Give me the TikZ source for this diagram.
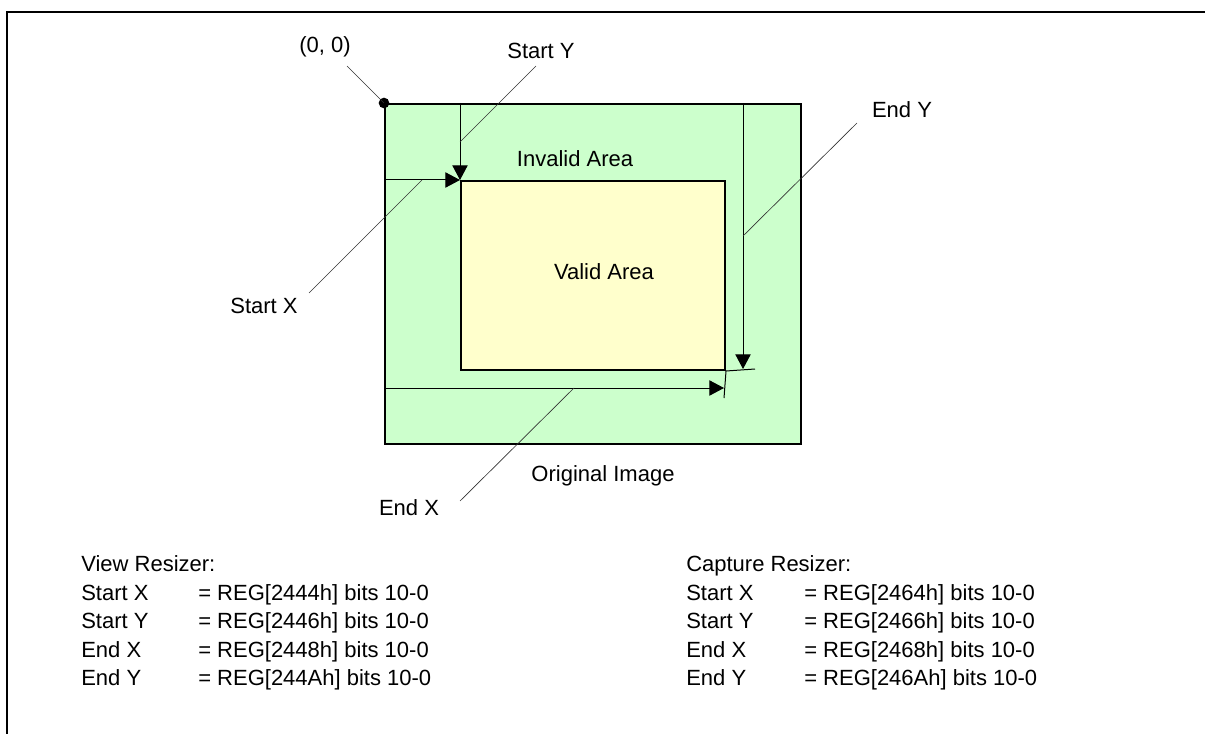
\documentclass[tikz,border=0pt]{standalone}
\usepackage{fontspec}
\setmainfont{Liberation Sans}
\usetikzlibrary{arrows.meta}
\definecolor{lgreen}{HTML}{CCFFCC}
\definecolor{lyellow}{HTML}{FFFFCC}
\begin{document}
\begin{tikzpicture}[x=0.75pt,y=-0.75pt,
  lbl/.style={font=\fontsize{16.5}{20}\selectfont, inner sep=0pt, anchor=base},
  txt/.style={font=\fontsize{16.5}{20}\selectfont, inner sep=0pt, anchor=base west},
  box/.style={draw, line width=1.5pt, inner sep=0pt, anchor=north west},
  arr/.style={line width=0.75pt, -{Triangle[length=11pt,width=11.5pt]}},
  tick/.style={line width=0.75pt},
  leader/.style={line width=0.5pt, black!80}]
\useasboundingbox (0,0) rectangle (1205,734);
% frame
\coordinate (fbl) at (7,734);
\coordinate (ftl) at (7,12);
\coordinate (ftr) at (1205,12);
\draw[line width=1.5pt] (fbl) -- (ftl) -- (ftr);
% boxes
\node[box, fill=lgreen, minimum width=312pt, minimum height=255pt] (orig) at (384,103) {};
\node[box, fill=lyellow, minimum width=198pt, minimum height=141.75pt] (valid) at (460,180) {};
% origin dot
\fill (orig.north west) circle (4pt);
% coordinates for dimension arrows
\coordinate (sy0) at (valid.north west |- orig.north);
\coordinate (sx0) at (orig.west |- valid.north west);
\coordinate (ey0) at (743,103);
\coordinate (ey1) at (743,369);
\coordinate (eyt) at (755,369);
\coordinate (ex0) at (384,388);
\coordinate (ex1) at (724,388);
\coordinate (ext) at (724,398);
% dimension arrows
\draw[arr] (sy0) -- (valid.north west);
\draw[arr] (sx0) -- (valid.north west);
\draw[arr] (ey0) -- (ey1);
\draw[tick] (valid.south east) -- (eyt);
\draw[arr] (ex0) -- (ex1);
\draw[tick] (valid.south east) -- (ext);
% labels
\node[lbl] (l00) at (325,53) {(0, 0)};
\node[lbl] (lsy) at (541,59) {Start Y};
\node[lbl] (linv) at (575,167) {Invalid Area};
\node[lbl] (lval) at (604,279) {Valid Area};
\node[lbl] (lsx) at (264,313) {Start X};
\node[lbl] (ley) at (902,118) {End Y};
\node[lbl] (lorig) at (603,481) {Original Image};
\node[lbl] (lex) at (409,515) {End X};
% leader lines
\coordinate (c00) at (347,66);
\coordinate (csy0) at (536,66);
\coordinate (csy1) at (460,142);
\coordinate (csx0) at (309,293);
\coordinate (csx1) at (422,180);
\coordinate (cey0) at (857,123);
\coordinate (cey1) at (743,236);
\coordinate (cex0) at (460,501);
\coordinate (cex1) at (574,388);
\draw[leader] (c00) -- (orig.north west);
\draw[leader] (csy0) -- (csy1);
\draw[leader] (csx0) -- (csx1);
\draw[leader] (cey0) -- (cey1);
\draw[leader] (cex0) -- (cex1);
% register tables
\node[txt] (vr) at (81,571) {View Resizer:};
\node[txt] (vr1) at (81,600) {Start X};
\node[txt] (vr2) at (81,628) {Start Y};
\node[txt] (vr3) at (81,657) {End X};
\node[txt] (vr4) at (81,685) {End Y};
\node[txt] (vv1) at (198,600) {= REG[2444h] bits 10-0};
\node[txt] (vv2) at (198,628) {= REG[2446h] bits 10-0};
\node[txt] (vv3) at (198,657) {= REG[2448h] bits 10-0};
\node[txt] (vv4) at (198,685) {= REG[244Ah] bits 10-0};
\node[txt] (cr) at (686,571) {Capture Resizer:};
\node[txt] (cr1) at (686,600) {Start X};
\node[txt] (cr2) at (686,628) {Start Y};
\node[txt] (cr3) at (686,657) {End X};
\node[txt] (cr4) at (686,685) {End Y};
\node[txt] (cv1) at (804,600) {= REG[2464h] bits 10-0};
\node[txt] (cv2) at (804,628) {= REG[2466h] bits 10-0};
\node[txt] (cv3) at (804,657) {= REG[2468h] bits 10-0};
\node[txt] (cv4) at (804,685) {= REG[246Ah] bits 10-0};
\end{tikzpicture}
\end{document}
